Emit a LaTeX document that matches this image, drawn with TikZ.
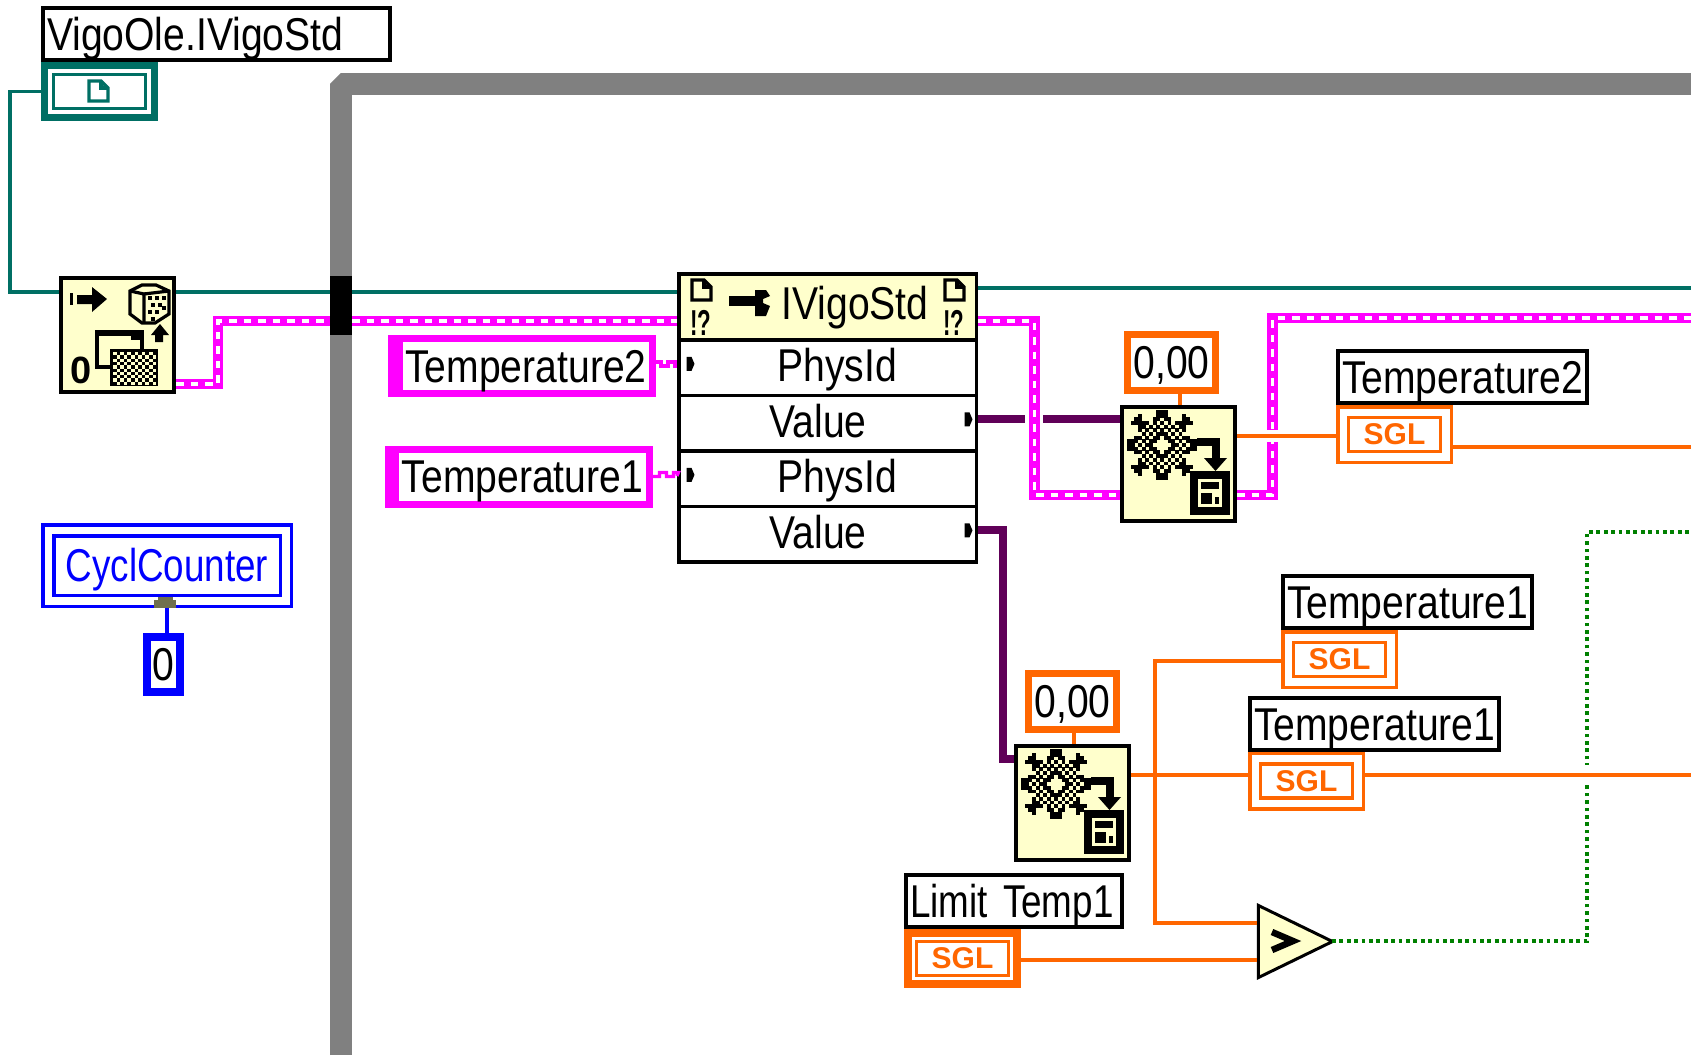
\documentclass[tikz,border=0pt]{standalone}
\usepackage{fontspec}
\usepackage{graphicx}
\usetikzlibrary{positioning,calc,shapes.geometric}
\newfontfamily\vifont[FakeStretch=.85]{Liberation Sans}
\newfontfamily\vifontn[FakeStretch=.80]{Liberation Sans}
\newfontfamily\viboldfont{Liberation Sans Bold}
\newcommand{\vitext}{\vifont\fontsize{46}{50}\selectfont}
\newcommand{\vitextn}{\vifontn\fontsize{46}{50}\selectfont}
\newcommand{\vibold}[1]{\viboldfont\fontsize{#1}{#1}\selectfont}
\definecolor{wireteal}{HTML}{006F64}
\definecolor{wirepink}{HTML}{FF00FF}
\definecolor{wirepurple}{HTML}{600058}
\definecolor{wireorange}{HTML}{FF6600}
\definecolor{wiregreen}{HTML}{008000}
\definecolor{viyellow}{HTML}{FFFFCC}
\definecolor{viframe}{HTML}{808080}
\definecolor{vitab}{HTML}{70704F}
\tikzset{
    lbl/.style={draw=black,line width=4pt,fill=white,inner ysep=0pt,inner xsep=4pt,text height=42.5pt,text depth=9.5pt,
        text width=#1-12pt,align=left,font=\vitext,execute at begin node={\hyphenpenalty=10000\exhyphenpenalty=10000}},
    sglout/.style={draw=wireorange,line width=3.5pt,fill=white,inner sep=0pt,minimum width=113.5pt,minimum height=55.5pt},
    sglthick/.style={draw=wireorange,line width=8pt,fill=white,inner sep=0pt,minimum width=109pt,minimum height=51pt},
    sglin/.style={draw=wireorange,line width=3.3pt,inner sep=0pt,minimum width=92pt,minimum height=34pt,
        text=wireorange,font=\vibold{30}},
    numbox/.style={draw=wireorange,line width=7pt,fill=white,inner sep=0pt,minimum width=88pt,text height=43.5pt,text depth=12.5pt,font=\vitext},
    pinkctl/.style={draw=wirepink,line width=7pt,fill=white,inner ysep=0pt,inner xsep=6pt,text width=249pt,align=right,
        text height=43.5pt,text depth=11.5pt,font=\vitext,execute at begin node={\hyphenpenalty=10000\exhyphenpenalty=10000}},
    fnbox/.style={draw=black,line width=4pt,fill=viyellow,inner sep=0pt,minimum width=113pt,minimum height=114pt},
    hdrbox/.style={draw=black,line width=3.5pt,fill=viyellow,inner sep=0pt,minimum width=297.5pt,text height=45.25pt,text depth=21pt,font=\vitext},
    rowbox/.style={draw=black,line width=3.5pt,fill=white,inner sep=0pt,minimum width=297.5pt,text height=41.5pt,text depth=14pt,font=\vitext},
    tealw/.style={draw=wireteal,line width=3.6pt},
    pinkw/.style={draw=wirepink,line width=10.7pt,postaction={draw=white,line width=3.6pt,dash pattern=on 7.5pt off 7pt}},
    pinkthin/.style={draw=wirepink,line width=3.2pt},
    purplew/.style={draw=wirepurple,line width=8pt},
    orangew/.style={draw=wireorange,line width=3.6pt},
    greenw/.style={draw=wiregreen,line width=3.5pt,dash pattern=on 3.7pt off 3.7pt},
    gapw/.style={draw=white,line width=12pt},
    pics/docicon/.style={code={
        \draw[draw=#1,line width=3.4pt,line join=miter] (0,0) -- (12,0) -- (19,7) -- (19,20) -- (0,20) -- cycle;
        \draw[draw=#1,line width=3.4pt] (12,0) -- (12,7) -- (19,7);
    }},
    pics/gearicon/.style={code={
        \foreach \i in {-9,...,9}{\foreach \j in {-9,...,9}{
            \pgfmathsetmacro\gearr{veclen(\i,\j)}
            \pgfmathsetmacro\gearc{cos(8*atan2(\j,\i))}
            \pgfmathtruncatemacro\gearon{(\gearr>=2.2 && \gearr<=7.3+2.7*(\gearc>0.3)) && (\gearr<3.6 || \gearr>7 || mod(\i+\j+20,2)==0)}
            \ifnum\gearon=1 \fill[black] (42+3.67*\i-1.85,40+3.67*\j-1.85) rectangle ++(3.8,3.8); \fi
        }}
        \draw[line width=8pt,line join=miter] (77,36.5) -- (95.5,36.5) -- (95.5,53);
        \fill[black] (84,53) -- (107,53) -- (95.5,66) -- cycle;
        \draw[line width=7.5pt,fill=viyellow] (74,70) rectangle (106,106);
        \fill[black] (81,77) rectangle (99,84);
        \fill[black] (81,88) rectangle (92,99);
        \fill[black] (95,92) rectangle (99,99);
    }},
    pics/openicon/.style={code={
        \fill[black] (11,17) rectangle (14,29);
        \fill[black] (18,19) -- (33,19) -- (33,11) -- (48,23) -- (33,36) -- (33,28) -- (18,28) -- cycle;
        \draw[line width=3.2pt] (71,15) -- (83,9) -- (97,9) -- (110,15) -- (110,38) -- (96,47) -- (83,47) -- (71,38) -- cycle;
        \draw[line width=3.2pt] (71,15) -- (85,18) -- (85,47);
        \draw[line width=3.2pt] (85,18) -- (110,15);
        \foreach \i/\j in {89/20,96/20,103/20,92/27,99/27,89/34,96/34,103/30,92/41}
            \fill[black] (\i,\j) rectangle ++(4,4);
        \draw[line width=3.5pt] (38,56) rectangle (83,91);
        \fill[black] (37,55) rectangle (84,60);
        \fill[black] (72,60) rectangle (84,64);
        \fill[black] (51,73) rectangle (99,110);
        \foreach \i in {0,...,5}{\foreach \j in {0,...,4}{
            \fill[viyellow] (54+7.2*\i,76+6.6*\j) rectangle ++(3.6,3.3);
            \fill[viyellow] (57.6+7.2*\i,79.3+6.6*\j) rectangle ++(3.6,3.3);
        }}
        \fill[black] (101,48) -- (110,59) -- (104,59) -- (104,66) -- (96,66) -- (96,59) -- (92,59) -- cycle;
    }}
}
\begin{document}
\begin{tikzpicture}[x=1pt,y=-1pt]
\useasboundingbox (0,0) rectangle (1691,1055);
\coordinate (frameB) at (341,1055);
\coordinate (frameC) at (341,84);
\coordinate (frameE) at (1691,84);
\draw[viframe,line width=22pt,line join=bevel] (frameB) -- (frameC) -- (frameE);

\node[draw=wireteal,line width=7pt,fill=white,inner sep=0pt,minimum width=110pt,minimum height=52pt] (ctl) at (99.5,91.5) {};
\node[draw=wireteal,line width=3pt,inner sep=0pt,minimum width=92pt,minimum height=34pt] (ctlin) at (ctl) {};
\pic at (89,81) {docicon=wireteal};
\node[lbl=351pt,above=0pt of ctl.north west,anchor=south west] (lblVigo) {VigoOle.IVigoStd};

\node[fnbox] (openref) at (117.5,335) {};
\pic at (openref.north west) {openicon};
\node[font=\vibold{38},inner sep=0pt] (openzero) at (81,370) {0};

\node[fill=black,inner sep=0pt,minimum width=22pt,minimum height=59pt] (tun) at (341,305.5) {};

\node[pinkctl] (ctlTb) at (522,366) {Temperature2};
\node[pinkctl] (ctlTa) at (518.5,476.5) {Temperature1};
\fill[wirepink] (ctlTb.north west) rectangle ($(ctlTb.south west)+(15,0)$);
\fill[wirepink] (ctlTa.north west) rectangle ($(ctlTa.south west)+(14,0)$);

\node[hdrbox] (hdr) at (827.5,307) {\hspace{55pt}IVigoStd};
\node[rowbox,below=-3.5pt of hdr] (rowA) {\hspace{19pt}PhysId};
\node[rowbox,below=-3.5pt of rowA] (rowB) {Value\hspace{19pt}\mbox{}};
\node[rowbox,below=-3.5pt of rowB] (rowC) {\hspace{19pt}PhysId};
\node[rowbox,below=-3.5pt of rowC] (rowD) {Value\hspace{19pt}\mbox{}};
\pic at (692,280) {docicon=black};
\pic at (945,280) {docicon=black};
\node[inner sep=0pt,font=\vibold{36}] (bangL) at (701,323) {\scalebox{.62}[1]{!?}};
\node[inner sep=0pt,font=\vibold{36}] (bangR) at (954,323) {\scalebox{.62}[1]{!?}};
\fill[black] (729,296) rectangle (756,306);
\fill[black] (755,290) -- (766,290) -- (770,296) -- (763,299) -- (763,303) -- (770,306) -- (766,316) -- (755,316) -- cycle;
\foreach \r in {rowA,rowC}
    \fill[black] ([xshift=9.5pt,yshift=11pt]\r.west) -- ++(5,0) -- ++(3,7) -- ++(-3,7) -- ++(-5,0) -- cycle;
\foreach \r in {rowB,rowD}
    \fill[black] ([xshift=-13.5pt,yshift=11pt]\r.east) -- ++(5,0) -- ++(3,7) -- ++(-3,7) -- ++(-5,0) -- cycle;

\node[fnbox] (gearA) at (1178.5,464) {};
\pic at (gearA.north west) {gearicon};
\node[numbox,above=11pt of gearA,xshift=-7pt] (zeroA) {0,00};
\node[fnbox] (gearB) at (1072.5,803) {};
\pic at (gearB.north west) {gearicon};
\node[numbox,above=11pt of gearB] (zeroB) {0,00};

\node[sglout] (sglTb) at (1394.5,434.5) {};
\node[sglin] (sglTbin) at (sglTb) {SGL};
\node[lbl=253pt,above=0pt of sglTb.north west,anchor=south west] (lblTb) {Temperature2};
\node[sglout] (sglTa) at (1339.5,659.5) {};
\node[sglin] (sglTain) at (sglTa) {SGL};
\node[lbl=253pt,above=0pt of sglTa.north west,anchor=south west] (lblTa) {Temperature1};
\node[sglout] (sglTc) at (1306.5,781) {};
\node[sglin] (sglTcin) at (sglTc) {SGL};
\node[lbl=253pt,above=0pt of sglTc.north west,anchor=south west] (lblTc) {Temperature1};
\node[sglthick] (sglLim) at (962.5,958.5) {};
\node[sglin] (sglLimin) at (sglLim) {SGL};
\node[lbl=220pt,font=\vitextn,above=0pt of sglLim.north west,anchor=south west] (lblLim) {Limit~Temp1};

\node[draw=black,line width=3pt,fill=viyellow,isosceles triangle,isosceles triangle stretches,
    inner sep=0pt,minimum width=72pt,minimum height=74pt] (cmp) at (1281,941.5) {};
\draw[line width=6.5pt,line join=miter] (1272,932) -- (1293,941) -- (1272,950);

\node[draw=blue,line width=3.5pt,inner sep=0pt,minimum width=248.5pt,minimum height=81.5pt] (cyclout) at (167,565.5) {};
\node[draw=blue,line width=3.5pt,inner sep=0pt,minimum width=226.5pt,text height=46pt,text depth=13.5pt,text=blue,font=\vitextn] (cycl) at (167,565.5) {CyclCounter};
\node[draw=blue,line width=8pt,fill=white,inner sep=0pt,minimum width=33pt,text height=43pt,text depth=12pt,font=\vitext] (cyclzero) at (163.5,664.5) {0};
\fill[vitab] (158,597) rectangle (173,600);
\fill[vitab] (154,600) rectangle (176,608);
\draw[draw=blue,line width=3.5pt] (cyclout.south) -- (cyclzero.north -| cyclout.south);

\coordinate (tealTurn) at (10,93);
\coordinate (tealEnd) at (1691,288);
\coordinate (tealIn) at ([yshift=43pt]openref.west);
\draw[tealw] (ctl.west) -- (ctl.west -| tealTurn) |- (tealIn);
\draw[tealw] ([yshift=43pt]openref.east) -- ([yshift=13.5pt]tun.west);
\draw[tealw] ([yshift=13.5pt]tun.east) -- ([yshift=13.5pt]tun.east -| hdr.west);
\draw[tealw] ([yshift=19pt]hdr.east) -- (tealEnd);

\coordinate (pinkA) at ([yshift=-49pt]openref.east);
\coordinate (pinkB) at ([yshift=-15.5pt]tun.west);
\draw[pinkw] (pinkA) -- ++(42,0) |- (pinkB);
\draw[pinkw] ([yshift=-15.5pt]tun.east) -- ([yshift=-15.5pt]tun.east -| hdr.west);
\draw[pinkthin] (ctlTb.east) ++(0,-4) -- ++(5,0) -- ++(0,4) -- ++(7,0) -- ++(0,-4) -- ++(7,0) -- ++(0,4) -- (rowA.west |- 678,366);
\draw[pinkthin] (ctlTa.east) -- ++(7,0) -- ++(0,-4) -- ++(7,0) -- ++(0,4) -- ++(7,0) -- ++(0,-4) -- ++(5,0) -- (rowC.west |- 678,476);

\coordinate (purpleIn) at ([yshift=45pt]gearA.west);
\draw[purplew] (rowB.east |- purpleIn) -- (purpleIn);
\draw[gapw,line width=10pt] (1025,419) -- (1043,419);
\coordinate (purpleTurn) at (1003,530);
\draw[purplew] (rowD.east |- purpleTurn) -- (purpleTurn) |- ([yshift=44pt]gearB.west);

\coordinate (pinkC) at ([yshift=-14pt]hdr.east);
\coordinate (pinkD) at ([yshift=-31pt]gearA.west);
\coordinate (pinkE) at ([yshift=-31pt]gearA.east);
\coordinate (pinkEnd) at (1691,318);
\draw[pinkw] (pinkC) -- (1034.5,321) |- (pinkD);
\draw[pinkw] (pinkE) -- (1272.5,495) |- (pinkEnd);

\coordinate (orangeA) at ([yshift=28pt]gearA.east);
\draw[gapw] (1264,436) -- (1281,436);
\draw[orangew] (orangeA) -- (orangeA -| sglTb.west);
\draw[orangew] ([xshift=8.5pt]zeroA.south) -- ([xshift=1.5pt]gearA.north);
\draw[orangew] ([xshift=1.5pt]zeroB.south) -- ([xshift=1.5pt]gearB.north);
\coordinate (endTb) at (1691,447);
\draw[orangew] ([yshift=-12.5pt]sglTb.east) -- (endTb);

\coordinate (cmpOut) at (1332,941);
\coordinate (greenA) at (1587,941);
\coordinate (greenB) at (1587,532);
\coordinate (greenEnd) at (1691,532);
\draw[greenw] (cmpOut) -- (greenA) -- (greenB) -- (greenEnd);
\draw[gapw,line width=20pt] (1582,775) -- (1592,775);

\coordinate (orangeB) at ([yshift=28pt]gearB.east);
\coordinate (branchTop) at (1155,661);
\coordinate (branchBot) at (1155,923);
\coordinate (endTc) at (1691,775);
\draw[orangew] (orangeB) -- (orangeB -| sglTc.west);
\draw[orangew] ([yshift=-1.5pt]sglTa.west) -- (branchTop) -- (branchBot) -- (branchBot -| cmp.west);
\draw[orangew] ([yshift=6pt]sglTc.east) -- (endTc);
\draw[orangew] ([yshift=-1.5pt]sglLim.east) -- ([yshift=-1.5pt]sglLim.east -| cmp.west);
\end{tikzpicture}
\end{document}
